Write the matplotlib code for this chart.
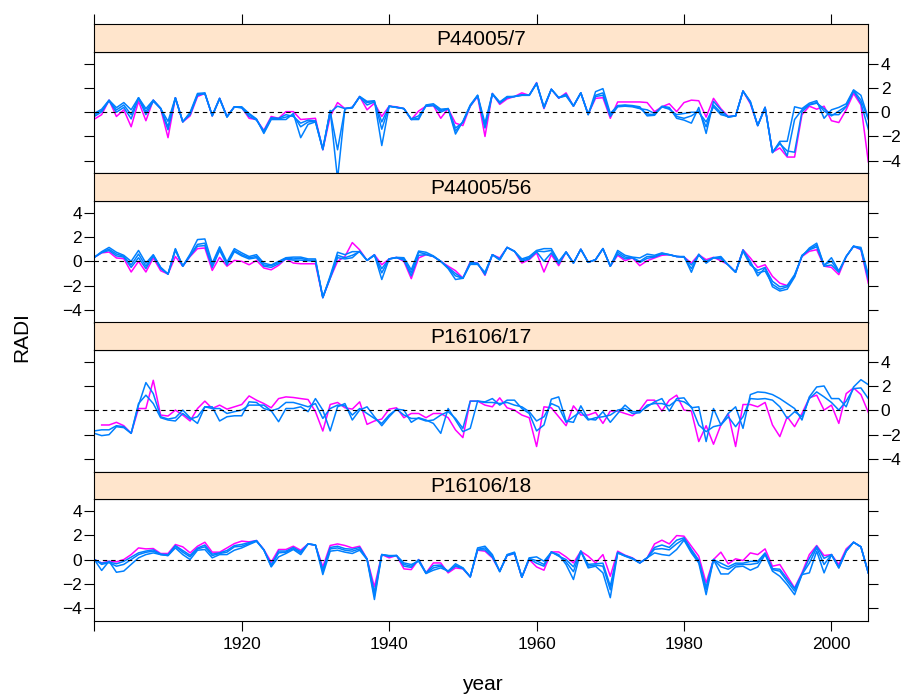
import numpy as np
import matplotlib
matplotlib.use('Agg')
import matplotlib.pyplot as plt

plt.rcParams['font.family'] = ['Liberation Sans', 'DejaVu Sans']

# ---- data ----
years = list(range(1900, 2006))

p1_mag = [-0.57, -0.2, 1.0, -0.35, 0.2, -1.2, 0.9, -0.7, 1.0, 0.3,
          -2.1, 1.2, -0.8, -0.3, 1.3, 1.55, -0.3, 1.15, -0.35, 0.45,
          0.4, -0.5, -0.6, -1.5, -0.35, -0.5, 0.05, 0.05, -0.6, -0.55,
          -0.5, -3.1, -0.35, 0.8, 0.3, 0.4, 1.3, 0.2, 0.75, -0.35,
          0.5, 0.45, 0.3, -0.6, 0.1, 0.5, 0.55, -0.5, 0.3, -0.9,
          -1.1, 0.5, 1.3, -2.0, 1.55, 0.65, 1.1, 1.3, 1.6, 1.4,
          2.45, 0.3, 1.9, 1.15, 1.6, 0.5, 1.6, -0.15, 1.15, 1.2,
          -0.5, 0.85, 0.85, 0.85, 0.85, 0.8, 0.05, 0.45, 0.7, 0.05,
          0.8, 1.0, 0.95, -0.4, 1.15, 0.3, -0.35, -0.3, 1.75, 0.7,
          -1.1, 0.4, -3.3, -2.95, -3.7, -3.7, -0.2, 0.5, 0.25, 0.5,
          -0.7, -0.85, 0.2, 1.55, 0.6, -4.1]
p1_b1 = [-0.1, 0.25, 1.0, 0.38, 0.8, 0.2, 1.2, 0.3, 1.0, 0.3,
         -0.75, 1.2, -0.8, 0.0, 1.55, 1.6, -0.3, 1.15, -0.4, 0.45,
         0.45, -0.1, -0.55, -1.75, -0.6, -0.6, -0.6, -0.1, -2.1, -1.0,
         -0.8, -3.1, 0.15, -5.5, 0.3, 0.35, 1.3, 0.9, 0.95, -2.75,
         0.5, 0.4, 0.3, -0.6, -0.6, 0.6, 0.7, 0.25, 0.3, -1.8,
         -0.75, 0.6, 1.4, -0.9, 1.55, 0.85, 1.3, 1.3, 1.4, 1.4,
         2.4, 0.45, 1.9, 1.2, 1.4, 0.55, 1.6, -0.2, 1.7, 1.95,
         -0.1, 0.55, 0.6, 0.55, 0.45, -0.3, -0.25, 0.5, 0.4, -0.5,
         -0.65, -0.9, 0.4, -1.75, 0.9, 0.2, -0.4, -0.3, 1.75, 0.9,
         -1.1, 0.4, -3.35, -2.4, -2.4, 0.45, 0.3, 0.75, 0.95, -0.5,
         0.2, 0.4, 0.7, 1.85, 1.4, -0.5]
p1_b2 = [-0.2, 0.14, 0.98, 0.19, 0.6, -0.2, 1.2, 0.05, 1.0, 0.35,
         -1.2, 1.2, -0.8, -0.1, 1.45, 1.55, -0.25, 1.15, -0.35, 0.45,
         0.4, -0.2, -0.6, -1.65, -0.5, -0.55, -0.4, -0.25, -1.2, -0.8,
         -0.75, -3.05, 0.1, -3.1, 0.3, 0.4, 1.3, 0.8, 0.9, -1.4,
         0.5, 0.4, 0.3, -0.6, -0.5, 0.55, 0.6, 0.15, 0.3, -1.55,
         -0.8, 0.55, 1.4, -1.2, 1.5, 0.8, 1.25, 1.3, 1.4, 1.4,
         2.35, 0.4, 1.9, 1.2, 1.35, 0.5, 1.6, -0.2, 1.4, 1.6,
         -0.25, 0.5, 0.55, 0.5, 0.35, -0.15, -0.2, 0.45, 0.3, -0.35,
         -0.5, -0.3, 0.1, -1.2, 0.6, -0.05, -0.4, -0.3, 1.75, 0.85,
         -1.1, 0.4, -3.3, -2.6, -3.2, -3.3, 0.05, 0.6, 0.75, 0.3,
         -0.2, -0.2, 0.45, 1.75, 0.75, -1.4]
p1_b3 = [-0.35, 0.03, 0.95, 0.0, 0.4, -0.55, 1.15, -0.2, 0.9, 0.3,
         -1.45, 1.15, -0.75, -0.2, 1.4, 1.55, -0.3, 1.1, -0.4, 0.45,
         0.35, -0.35, -0.65, -1.55, -0.45, -0.5, -0.2, -0.35, -0.9, -0.65,
         -0.7, -3.0, 0.0, 0.5, 0.3, 0.4, 1.25, 0.6, 0.85, -0.8,
         0.5, 0.4, 0.3, -0.55, -0.3, 0.5, 0.55, 0.0, 0.3, -1.3,
         -0.85, 0.5, 1.35, -1.3, 1.5, 0.75, 1.2, 1.3, 1.45, 1.4,
         2.4, 0.35, 1.9, 1.2, 1.5, 0.5, 1.6, -0.15, 1.3, 1.4,
         -0.35, 0.45, 0.5, 0.45, 0.3, 0.2, -0.1, 0.45, 0.25, -0.2,
         -0.1, 0.0, 0.0, -0.8, 0.45, -0.2, -0.35, -0.3, 1.75, 0.8,
         -1.1, 0.4, -3.3, -2.5, -3.6, -0.6, 0.2, 0.65, 0.8, 0.1,
         -0.3, 0.1, 0.5, 1.8, 1.0, -0.6]

p2_mag = [0.33, 0.7, 0.77, 0.28, 0.22, -0.88, 0.0, -0.88, 0.28, -0.77,
          -1.05, 0.4, -0.4, 0.4, 1.05, 1.1, -0.75, 0.33, -0.4, 0.08,
          0.0, -0.28, 0.08, -0.55, -0.7, -0.33, 0.22, -0.14, -0.2, -0.2,
          -0.2, -3.0, -1.4, 0.0, 0.4, 1.55, 0.95, 0.08, 0.55, -0.28,
          0.2, 0.33, 0.0, -1.43, 0.28, 0.55, 0.4, 0.0, -0.4, -0.77,
          -1.38, -0.05, -0.14, -1.15, 0.55, 0.28, 1.15, 0.83, -0.14, 0.14,
          0.7, -0.88, 0.55, -0.36, 0.77, -0.14, 1.0, -0.08, 0.14, 1.05,
          -0.4, 0.5, 0.05, 0.28, -0.36, 0.05, 0.28, 0.5, 0.55, 0.4,
          0.36, -0.14, 0.55, 0.14, 0.33, 0.05, -0.28, -0.88, 0.96, 0.28,
          -0.5, -0.28, -1.24, -1.8, -2.0, -1.24, 0.4, 0.83, 0.96, -0.4,
          -0.5, -1.1, 0.4, 1.24, 0.96, -1.8]
p2_b1 = [0.33, 0.8, 1.15, 0.75, 0.5, 0.0, 0.9, -0.15, 0.55, -0.5,
         -1.05, 1.05, -0.4, 0.6, 1.8, 1.85, -0.15, 1.2, -0.05, 1.05,
         0.7, 0.4, 0.55, -0.15, -0.3, 0.0, 0.3, 0.35, 0.35, 0.2,
         0.2, -3.0, -1.2, 0.75, 0.55, 0.8, 0.8, 0.08, 0.55, -1.5,
         0.2, 0.33, 0.3, -0.7, 0.85, 0.75, 0.45, 0.0, -0.6, -1.5,
         -1.4, -0.25, -0.25, -0.9, 0.55, 0.1, 1.15, 0.83, 0.2, 0.4,
         0.9, 1.05, 1.05, 0.0, 0.77, -0.14, 1.0, -0.08, 0.14, 1.05,
         -0.4, 0.9, 0.5, 0.35, 0.28, 0.6, 0.5, 0.7, 0.55, 0.4,
         0.4, -0.9, 0.6, -0.15, 0.3, 0.4, -0.3, -0.9, 0.95, 0.0,
         -1.2, -0.55, -1.65, -2.1, -2.0, -1.1, 0.4, 1.1, 1.5, -0.35,
         0.3, -0.8, 0.4, 1.25, 1.15, -1.1]
p2_b2 = [0.33, 0.75, 1.0, 0.6, 0.42, -0.3, 0.6, -0.4, 0.5, -0.5,
         -1.05, 1.0, -0.4, 0.5, 1.4, 1.5, -0.3, 1.1, -0.2, 0.9,
         0.55, 0.3, 0.4, -0.3, -0.35, -0.1, 0.25, 0.2, 0.25, 0.1,
         0.1, -3.0, -1.3, 0.5, 0.3, 0.5, 0.8, 0.08, 0.5, -0.95,
         0.2, 0.3, 0.2, -0.95, 0.75, 0.6, 0.4, 0.0, -0.55, -1.2,
         -1.4, -0.2, -0.2, -1.0, 0.55, 0.15, 1.15, 0.83, 0.1, 0.3,
         0.85, 0.8, 0.9, -0.1, 0.77, -0.14, 1.0, -0.08, 0.14, 1.05,
         -0.4, 0.75, 0.35, 0.3, 0.0, 0.4, 0.4, 0.65, 0.55, 0.4,
         0.35, -0.6, 0.55, -0.1, 0.3, 0.3, -0.3, -0.9, 0.9, -0.15,
         -0.95, -0.8, -1.9, -2.3, -2.1, -1.2, 0.45, 1.0, 1.35, -0.3,
         0.0, -0.85, 0.4, 1.25, 1.05, -1.3]
p2_b3 = [0.33, 0.72, 0.9, 0.45, 0.35, -0.5, 0.3, -0.6, 0.45, -0.6,
         -1.05, 0.9, -0.4, 0.45, 1.25, 1.3, -0.5, 0.9, -0.3, 0.8,
         0.45, 0.2, 0.3, -0.4, -0.5, -0.2, 0.2, 0.1, 0.1, 0.05,
         0.0, -2.95, -1.4, 0.3, 0.2, 0.3, 0.85, 0.08, 0.5, -0.6,
         0.2, 0.3, 0.1, -1.2, 0.5, 0.55, 0.4, 0.0, -0.5, -1.0,
         -1.4, -0.1, -0.15, -1.1, 0.55, 0.2, 1.15, 0.83, 0.0, 0.2,
         0.8, 0.0, 0.7, -0.2, 0.77, -0.14, 1.0, -0.08, 0.14, 1.05,
         -0.4, 0.6, 0.2, 0.3, -0.1, 0.25, 0.35, 0.6, 0.55, 0.4,
         0.35, -0.3, 0.5, 0.0, 0.3, 0.2, -0.3, -0.9, 0.85, -0.3,
         -0.75, -0.5, -2.1, -2.45, -2.3, -1.3, 0.5, 0.95, 1.2, -0.4,
         -0.3, -0.9, 0.4, 1.25, 1.0, -1.5]

p3_mag = [np.nan, -1.2, -1.2, -0.98, -1.26, -1.89, 0.16, 0.16, 2.49, -0.38,
          -0.46, 0.03, -0.38, -0.87, 0.16, 0.77, 0.16, 0.44, 0.11, 0.3,
          0.49, 1.2, 0.85, 0.57, 0.22, 0.98, 1.12, 1.07, 0.98, 0.9,
          -0.1, -1.7, 0.49, 0.66, 0.22, 0.11, 0.71, -1.15, -0.87, -0.71,
          0.11, 0.22, -0.6, -0.25, -0.25, -0.6, -0.25, -0.25, -0.6, -1.61,
          -2.24, 0.77, 0.77, 0.44, 0.3, 1.04, 0.22, 0.03, -0.38, -0.6,
          -2.98, 0.3, 0.22, -0.52, -1.26, 0.38, -0.38, -0.38, -0.16, -1.07,
          -0.05, -0.05, -0.25, -0.44, 0.03, 0.85, 0.85, -0.05, 0.85, 1.26,
          0.03, -0.05, -2.57, -1.26, -2.79, -1.2, -0.25, -2.98, 0.49, 0.49,
          0.3, 0.66, -1.2, -2.16, -0.52, -1.34, -0.25, 1.04, 1.26, 0.03,
          0.44, -1.07, 1.39, 1.86, 1.31, -0.16]
p3_b1 = [-1.69, -1.6, -1.6, -1.26, -1.34, -1.89, 0.44, 2.3, 1.39, -0.52,
         -0.71, -0.6, 0.03, -0.6, -1.07, 0.3, 0.3, -0.87, -0.52, -0.44,
         -0.44, 0.71, 0.66, 0.16, -0.03, -0.93, 0.16, 0.16, 0.3, -0.1,
         0.98, 0.03, -1.69, 0.3, 0.57, -0.79, 0.03, 0.3, -0.52, -1.26,
         -0.52, 0.11, 0.03, -0.98, -0.6, -0.79, -1.07, -1.89, 0.16, -0.79,
         -1.75, -1.48, 0.77, 0.71, 0.98, 0.44, 0.85, 0.85, 0.16, -0.25,
         -1.69, -1.2, 0.93, 1.12, -0.87, -0.98, 0.38, -0.71, -0.79, -0.1,
         -0.98, -0.25, 0.44, -0.1, -0.1, 0.3, 0.71, 0.98, -0.05, 0.98,
         1.04, 0.22, 0.3, -2.57, 0.16, -1.2, -0.25, 0.3, -1.48, 1.31,
         1.53, 1.48, 1.31, 0.98, 0.57, 0.16, -0.79, 1.12, 1.94, 2.02,
         0.98, 0.98, 0.3, 1.94, 2.54, 2.13]
p3_b2 = [-1.89, -2.08, -2.0, -1.34, -1.42, -1.89, 0.57, 1.26, 0.57, -0.6,
         -0.79, -0.87, -0.25, -0.71, -0.52, 0.3, 0.16, 0.16, -0.25, -0.1,
         0.03, 0.44, 0.44, 0.44, -0.03, 0.16, 0.66, 0.66, 0.49, 0.3,
         0.57, -0.66, 0.16, 0.44, 0.38, -0.38, 0.16, -0.25, -0.66, -1.07,
         -0.38, 0.11, -0.38, -0.66, -0.66, -0.87, -0.79, -0.38, -0.1, -0.66,
         -1.48, 0.77, 0.77, 0.66, 0.66, 0.57, 0.66, 0.44, 0.3, -0.1,
         -0.87, -0.52, 0.57, 0.3, -0.98, -0.52, -0.1, -0.79, -0.6, -0.52,
         -0.38, 0.03, 0.16, -0.25, -0.19, 0.44, 0.57, 0.57, 0.38, 0.85,
         0.71, 0.3, -1.2, -1.75, -1.34, -1.2, -0.52, -1.34, -0.52, 0.98,
         0.93, 0.98, 0.85, 0.3, -0.66, -0.1, -0.52, 0.98, 1.53, 1.12,
         0.66, 0.03, 0.77, 1.8, 1.86, 0.98]

p4_mag = [0.0, -0.28, -0.14, -0.19, 0.0, 0.41, 0.96, 0.88, 0.91, 0.5,
          0.5, 1.24, 1.05, 0.55, 1.1, 1.43, 0.61, 0.61, 0.96, 1.32,
          1.52, 1.46, 1.57, 0.83, -0.22, 0.83, 0.83, 1.1, 0.77, 1.29,
          1.18, -0.61, 1.16, 1.29, 1.16, 0.96, 1.1, 0.06, -2.26, 0.41,
          0.14, 0.33, -0.77, -0.83, 0.0, -1.1, -0.28, -0.28, -1.1, -0.69,
          -0.77, -1.43, 0.77, 0.69, 0.14, -0.96, 0.33, 0.5, -1.46, 0.0,
          -0.61, -0.88, 0.63, 0.63, 0.22, -0.28, 0.69, 0.28, -0.28, 0.41,
          -1.38, 0.69, 0.36, 0.14, -0.28, 0.14, 1.29, 1.6, 1.29, 1.98,
          1.93, 1.1, 0.28, -1.93, 0.0, 0.61, -0.36, 0.06, -0.08, 0.55,
          0.41, 0.88, -0.55, -0.41, -1.38, -2.34, -1.1, 0.41, 1.16, 0.33,
          0.41, -0.41, 0.88, 1.43, 1.05, -1.1]
p4_b1 = [0.0, -0.9, -0.14, -1.05, -0.95, -0.4, 0.14, 0.41, 0.55, 0.41,
         0.33, 0.96, 0.41, 0.0, 0.77, 0.83, 0.14, 0.41, 0.41, 0.77,
         0.96, 1.24, 1.5, 0.8, -0.61, 0.22, 0.5, 0.83, 0.41, 1.29,
         1.2, -1.24, 0.69, 0.77, 0.61, 0.5, 0.77, 0.0, -3.3, 0.41,
         0.33, 0.33, -0.28, -0.41, -0.14, -1.15, -0.88, -0.69, -0.96, -0.5,
         -0.69, -1.43, 0.96, 1.1, 0.41, -1.0, 0.41, 0.61, -1.46, 0.14,
         0.22, -0.14, 0.61, 0.41, -0.41, -1.65, 0.69, -0.69, -0.55, -1.1,
         -3.15, 0.55, 0.28, 0.05, -0.28, 0.14, 0.55, 0.41, 0.33, 0.83,
         1.6, 0.55, -0.28, -2.9, 0.0, -1.19, -1.19, -0.61, -0.55, -0.88,
         -0.61, 0.41, -0.96, -1.38, -2.07, -2.9, -1.24, -1.1, 0.69, -1.1,
         0.41, -0.69, 0.69, 1.43, 1.05, -1.1]
p4_b2 = [0.0, -0.4, -0.25, -0.55, -0.4, 0.0, 0.41, 0.6, 0.69, 0.41,
         0.33, 1.1, 0.61, 0.22, 0.88, 1.05, 0.33, 0.5, 0.61, 1.05,
         1.1, 1.32, 1.55, 0.8, -0.55, 0.55, 0.61, 0.9, 0.55, 1.29,
         1.2, -1.0, 0.88, 0.96, 0.77, 0.69, 0.88, 0.03, -3.0, 0.41,
         0.3, 0.33, -0.4, -0.55, -0.05, -1.15, -0.69, -0.55, -0.96, -0.35,
         -0.69, -1.43, 0.85, 0.96, 0.3, -1.0, 0.38, 0.55, -1.46, 0.1,
         -0.1, -0.4, 0.61, 0.33, -0.2, -1.0, 0.69, -0.55, -0.45, -0.55,
         -2.5, 0.55, 0.3, 0.1, -0.28, 0.14, 0.85, 0.9, 0.8, 1.3,
         1.7, 0.7, -0.15, -2.5, 0.0, -0.6, -0.8, -0.45, -0.4, -0.4,
         -0.3, 0.5, -0.83, -0.96, -1.8, -2.6, -1.24, -0.3, 0.96, -0.41,
         0.41, -0.69, 0.69, 1.43, 1.05, -1.1]
p4_b3 = [0.0, -0.3, -0.2, -0.35, -0.15, 0.2, 0.55, 0.7, 0.8, 0.45,
         0.4, 1.15, 0.75, 0.35, 0.95, 1.2, 0.45, 0.55, 0.75, 1.15,
         1.25, 1.4, 1.57, 0.8, -0.45, 0.7, 0.7, 1.0, 0.65, 1.29,
         1.2, -0.85, 1.0, 1.1, 0.9, 0.85, 1.0, 0.05, -2.7, 0.41,
         0.25, 0.33, -0.55, -0.65, 0.0, -1.1, -0.5, -0.45, -1.0, -0.55,
         -0.75, -1.43, 0.8, 0.8, 0.2, -0.95, 0.33, 0.5, -1.46, 0.05,
         -0.3, -0.55, 0.63, 0.28, 0.0, -0.6, 0.69, -0.4, -0.35, -0.3,
         -2.2, 0.6, 0.33, 0.1, -0.28, 0.14, 1.0, 1.2, 1.0, 1.6,
         1.8, 0.83, -0.05, -2.3, 0.0, -0.3, -0.6, -0.3, -0.3, -0.15,
         -0.15, 0.55, -0.75, -0.8, -1.6, -2.4, -1.2, 0.1, 1.1, 0.1,
         0.41, -0.6, 0.75, 1.43, 1.05, -1.1]

panel_names = ['P44005/7', 'P44005/56', 'P16106/17', 'P16106/18']
panel_mag = [p1_mag, p2_mag, p3_mag, p4_mag]
panel_blue = [[p1_b1, p1_b2, p1_b3],
              [p2_b1, p2_b2, p2_b3],
              [p3_b1, p3_b2],
              [p4_b1, p4_b2, p4_b3]]

yticks = [-4, -2, 0, 2, 4]
xticks = [1900, 1920, 1940, 1960, 1980, 2000]
xticklabels = ['', '1920', '1940', '1960', '1980', '2000']

# ---- layout in pixels ----
W, H = 912, 696
fig = plt.figure(figsize=(W / 100, H / 100), dpi=100)

leftPx, rightPx = 94.3, 868.3
top0, period = 24.3, 149.1
stripH, panelH = 27.4, 121.7
tickLen = 7.0

for i in range(4):
    stripTop = top0 + i * period
    panelTop = stripTop + stripH
    panelBot = panelTop + panelH
    rect = [leftPx / W, 1 - panelBot / H, (rightPx - leftPx) / W, panelH / H]
    ax = fig.add_axes(rect)
    sax = fig.add_axes([leftPx / W, 1 - panelTop / H, (rightPx - leftPx) / W, stripH / H])

    x = np.array(years, dtype=float)
    ax.plot(x, panel_mag[i], color='#ff00ff', lw=1.1)
    for b in panel_blue[i]:
        ax.plot(x, b, color='#0080ff', lw=1.1)
    ax.axhline(0, color='black', lw=0.8, ls=(0, (4, 3.5)))

    ax.set_xlim(1900, 2005)
    ax.set_ylim(-5.05, 5.0)
    ax.set_yticks(yticks)
    ax.set_yticklabels([f'{t}'.replace('-', '\u2212') for t in yticks])
    labelRight = (i % 2 == 0)
    ax.tick_params(axis='y', direction='out', length=tickLen, width=0.8,
                   left=True, right=True, labelleft=not labelRight,
                   labelright=labelRight, labelsize=12.5, pad=2)
    if i == 3:
        ax.set_xticks(xticks)
        ax.set_xticklabels(xticklabels)
        ax.tick_params(axis='x', direction='out', length=tickLen, width=0.8,
                       labelsize=12.5, pad=5)
    else:
        ax.set_xticks([])
    for s in ax.spines.values():
        s.set_linewidth(0.8)

    sax.set_facecolor('#ffe5cc')
    sax.set_xlim(1900, 2005)
    sax.set_ylim(0, 1)
    sax.set_yticks([])
    if i == 0:
        sax.set_xticks(xticks)
        sax.tick_params(axis='x', direction='out', length=tickLen, width=0.8,
                        bottom=False, top=True, labelbottom=False, labeltop=False)
    else:
        sax.set_xticks([])
    for s in sax.spines.values():
        s.set_linewidth(0.8)
    sax.text(0.5, 0.45, panel_names[i], transform=sax.transAxes,
             ha='center', va='center', fontsize=15)

fig.text(22 / W, 1 - 337 / H, 'RADI', rotation=90, ha='center', va='center', fontsize=15)
fig.text(482 / W, 1 - 684 / H, 'year', ha='center', va='center', fontsize=15)

fig.savefig('out.png', dpi=100)
